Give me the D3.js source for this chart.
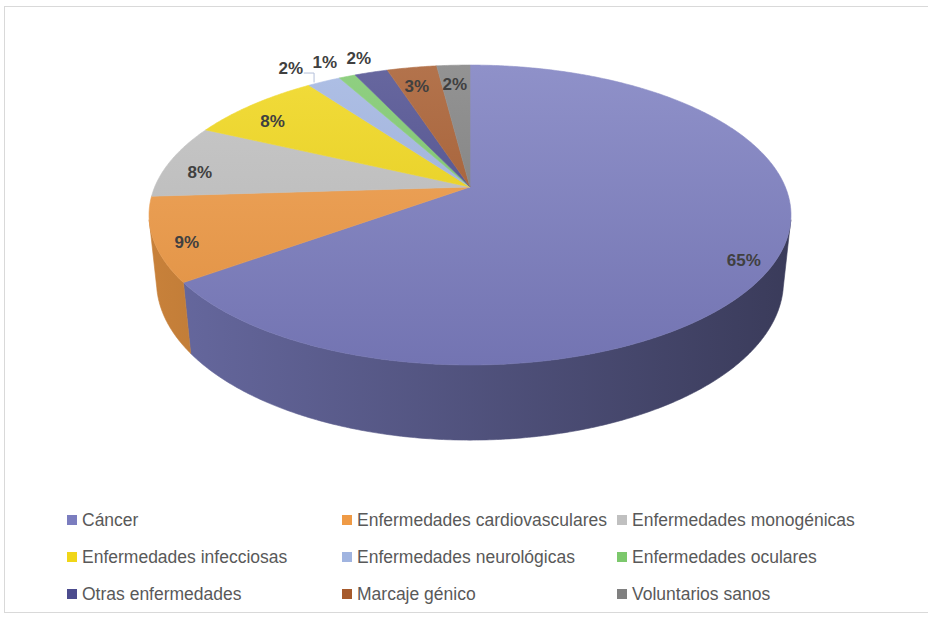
<!DOCTYPE html>
<html lang="es">
<head>
<meta charset="UTF-8">
<title>Ensayos de terapia génica por enfermedad</title>
<script src="https://cdn.jsdelivr.net/npm/d3@7"></script>
<style>
  body { margin: 0; background: #fff; }
  svg { display: block; }
  .legend text { font-family: "Liberation Sans", Arial, sans-serif; font-size: 17.5px; fill: #595959; }
  .pct { font-family: "Liberation Sans", Arial, sans-serif; font-size: 17px; font-weight: bold; fill: #404040; }
</style>
</head>
<body>
<script>
// Data
const categories = ["Cáncer", "Enfermedades cardiovasculares", "Enfermedades monogénicas",
  "Enfermedades infecciosas", "Enfermedades neurológicas", "Enfermedades oculares",
  "Otras enfermedades", "Marcaje génico", "Voluntarios sanos"];
const values = [65, 9, 8, 8, 2, 1, 2, 3, 2];
const colors = ["#7b7dbf", "#ef9a45", "#c0c0c0", "#f0d618", "#a0b4e0", "#7cc86c", "#4c4c8e", "#a65a2c", "#808080"];
// labels Excel pushed outside the pie (best fit)
const labelOutside = [false, false, false, false, true, true, true, false, false];

const w = 928, h = 619;

// 3D projection of the pie disc (unit radius), fitted to the picture
const cx = 470, cy = 187;
const f = 1500, D = 4.757;
const tilt = Math.asin(0.459);
const thick = 0.239;
const sinA = Math.sin(tilt), cosA = Math.cos(tilt);

function proj(theta, r, y) {
  const X = r * Math.sin(theta), Z = r * Math.cos(theta);
  const yc = Z * sinA + y * cosA;
  const zc = D + Z * cosA - y * sinA;
  return [cx + f * X / zc, cy - f * yc / zc];
}

const svg = d3.select("body").append("svg")
  .attr("width", w)
  .attr("height", h);

// chart area border
svg.append("rect")
  .attr("x", 4.5).attr("y", 6.5)
  .attr("width", 940).attr("height", 606)
  .attr("fill", "none")
  .attr("stroke", "#d9d9d9");

const pie = d3.pie().sort(null).value(d => d)(values);
const total = d3.sum(values);
const fmt = d3.format(".0%");

// gradients: top faces lighter at the back, walls darker to the right
const defs = svg.append("defs");
colors.forEach((c, i) => {
  const top = defs.append("linearGradient")
    .attr("id", "top" + i)
    .attr("gradientUnits", "userSpaceOnUse")
    .attr("x1", 0).attr("y1", 65).attr("x2", 0).attr("y2", 365);
  top.append("stop").attr("offset", 0).attr("stop-color", d3.interpolateRgb(c, "#fff")(0.15));
  top.append("stop").attr("offset", 1).attr("stop-color", d3.color(c).darker(0.2));

  const wall = defs.append("linearGradient")
    .attr("id", "wall" + i)
    .attr("gradientUnits", "userSpaceOnUse")
    .attr("x1", 150).attr("y1", 0).attr("x2", 792).attr("y2", 0);
  wall.append("stop").attr("offset", 0).attr("stop-color", d3.color(c).darker(0.5));
  wall.append("stop").attr("offset", 1).attr("stop-color", d3.color(c).darker(2.1));
});

// visible part of the outer wall (normal facing the camera)
const tMin = Math.acos(-1 / (D * cosA)) - 0.02;
const tMax = 2 * Math.PI - tMin;
const step = Math.PI / 360;

function arcPoints(a0, a1, r, y) {
  const n = Math.max(2, Math.ceil((a1 - a0) / step));
  return d3.range(n + 1).map(k => proj(a0 + (a1 - a0) * k / n, r, y));
}

const line = d3.line();

// walls
svg.append("g").selectAll("path")
  .data(pie.filter(d => d.endAngle > tMin && d.startAngle < tMax))
  .join("path")
  .attr("d", d => {
    const a0 = Math.max(d.startAngle, tMin), a1 = Math.min(d.endAngle, tMax);
    const pts = arcPoints(a0, a1, 1, 0).concat(arcPoints(a0, a1, 1, -thick).reverse());
    return line(pts) + "Z";
  })
  .attr("fill", d => `url(#wall${d.index})`)
  .attr("stroke", d => `url(#wall${d.index})`)
  .attr("stroke-width", 0.6);

// top faces
svg.append("g").selectAll("path")
  .data(pie)
  .join("path")
  .attr("d", d => line([proj(0, 0, 0)].concat(arcPoints(d.startAngle, d.endAngle, 1, 0))) + "Z")
  .attr("fill", d => `url(#top${d.index})`)
  .attr("stroke", d => `url(#top${d.index})`)
  .attr("stroke-width", 0.6);

// percentage labels
const labels = pie.map(d => {
  const mid = (d.startAngle + d.endAngle) / 2;
  const out = labelOutside[d.index];
  const p = proj(mid, out ? 1.15 : 0.9, 0);
  return { d, mid, out, x: p[0], y: out ? p[1] : p[1] + 9 };
});
// spread the outside labels leftwards so they do not overlap
const outs = labels.filter(l => l.out).sort((a, b) => b.x - a.x);
for (let k = 1; k < outs.length; k++) {
  if (outs[k - 1].x - outs[k].x < 34) outs[k].x = outs[k - 1].x - 34;
}

svg.append("g").selectAll("text")
  .data(labels)
  .join("text")
  .attr("class", "pct")
  .attr("x", l => l.x)
  .attr("y", l => l.y)
  .attr("text-anchor", "middle")
  .attr("dominant-baseline", "central")
  .text(l => fmt(l.d.value / total));

// leader line for the label that was moved away from its slice
outs.forEach(l => {
  const edge = proj(l.mid, 1.0, 0);
  if (edge[0] - l.x > 24) {
    svg.append("polyline")
      .attr("points", [[l.x + 13, l.y + 5], [edge[0] - 10, l.y + 5], [edge[0] - 10, edge[1] + 1]].join(" "))
      .attr("fill", "none")
      .attr("stroke", "#b4bfd9")
      .attr("stroke-width", 1);
  }
});

// legend: 3 columns x 3 rows
const colX = [67, 342, 617];
const rowY = [520, 557, 594];
const legend = svg.append("g").attr("class", "legend")
  .selectAll("g")
  .data(categories)
  .join("g")
  .attr("transform", (d, i) => `translate(${colX[i % 3]},${rowY[Math.floor(i / 3)]})`);

legend.append("rect")
  .attr("x", 0).attr("y", -5)
  .attr("width", 10).attr("height", 10)
  .attr("fill", (d, i) => colors[i]);

legend.append("text")
  .attr("x", 15)
  .attr("y", 0)
  .attr("dominant-baseline", "central")
  .text(d => d);
</script>
</body>
</html>
